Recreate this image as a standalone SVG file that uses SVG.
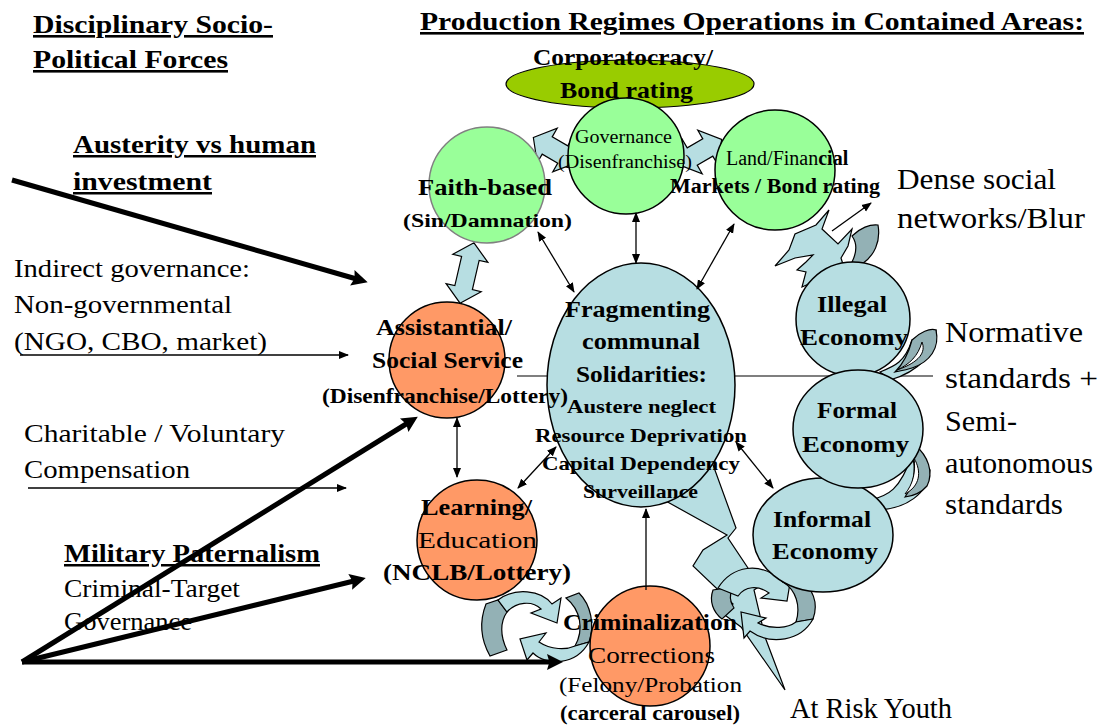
<svg xmlns="http://www.w3.org/2000/svg" width="1107" height="728" viewBox="0 0 1107 728" font-family="'Liberation Serif','DejaVu Serif','Noto Serif',serif">
<style>
text{font-family:"Liberation Serif","DejaVu Serif","Noto Serif",serif;fill:#000}
.b{font-weight:bold}
.u{text-decoration:underline}
.t{font-size:25px}
.r{font-size:29px}
.ln{stroke:#000;stroke-width:1.3;fill:none}
.thick{stroke:#000;stroke-width:5;fill:none}
.lb{fill:#B7DEE2;stroke:#000;stroke-width:1.2}
.gr{fill:#93B1B5;stroke:#000;stroke-width:1.2}
.green{fill:#99FF99;stroke:#000;stroke-width:1.5}
.orange{fill:#FF9966;stroke:#000;stroke-width:1.5}
.blue{fill:#B7DEE2;stroke:#000;stroke-width:1.5}
</style>
<defs>
<marker id="ah" viewBox="0 0 10 10" refX="9" refY="5" markerUnits="userSpaceOnUse" markerWidth="10" markerHeight="10" orient="auto-start-reverse"><path d="M0,1 L10,5 L0,9 z" fill="#000"/></marker>
<marker id="th" viewBox="0 0 10 10" refX="5" refY="5" markerUnits="userSpaceOnUse" markerWidth="20" markerHeight="16" orient="auto"><path d="M0,0 L10,5 L0,10 L1.5,5 z" fill="#000"/></marker>
<polygon id="dbl" points="-25,0 -9,-20 -9,-10 9,-10 9,-20 25,0 9,20 9,10 -9,10 -9,20"/>
<polygon id="dblv" points="-31,0 -15,-18 -15,-9 15,-9 15,-18 31,0 15,18 15,9 -15,9 -15,18"/>
</defs>
<rect width="1107" height="728" fill="#fff"/>

<line x1="517" y1="376" x2="933" y2="376" stroke="#000" stroke-width="1.2"/>

<g id="shapes">
<use href="#dbl" transform="translate(555,150) rotate(30)" fill="#B7DEE2" stroke="#000" stroke-width="1.2"/>
<use href="#dbl" transform="translate(700,152) rotate(-30)" fill="#B7DEE2" stroke="#000" stroke-width="1.2"/>
<use href="#dblv" transform="translate(467,273) rotate(103)" fill="#B7DEE2" stroke="#000" stroke-width="1.2"/>
<polygon class="lb" points="664,500 727,535 703,550 693,566 733,604 722,613 741,627 785,690 765,637 754,590 760,586 728,538 736,528 712,462"/>
<polygon class="lb" points="775,266 789,250 795,234 816,225 829,210 822,229 838,244 852,229 848,246 841,258 848,280 813,282 802,287 806,272 797,270 806,262 813,255 795,258"/>
<path class="gr" d="M852,236 C860,228 870,224 878,225 C881,242 874,256 862,264 L852,262 C857,252 857,243 852,236 Z"/>
<path class="lb" d="M880,372 C895,366 905,362 912,340 L936,330 C938,352 918,372 890,380 Z"/>
<path class="gr" d="M912,340 C920,332 930,328 936,330 C940,348 930,362 912,368 C906,370 900,371 895,372 C905,362 909,352 912,340 Z"/>
<path d="M897,370 C910,364 918,356 922,342 C926,352 920,362 897,370 Z" fill="#fff" stroke="#000" stroke-width="1"/>
<path class="lb" d="M870,500 C888,496 900,490 912,455 L930,470 C928,495 905,508 880,510 Z"/>
<path class="gr" d="M915,445 C928,456 934,472 927,486 C921,493 913,496 905,497 C913,486 917,470 912,455 Z"/>
<path d="M905,494 C913,484 916,472 914,458 C922,472 920,486 905,494 Z" fill="#fff" stroke="#000" stroke-width="1"/>
<path class="gr" d="M486,604 C479,622 481,640 490,656 L507,650 C500,636 500,622 507,612 L498,600 Z"/>
<path class="lb" d="M498,600 C515,587 541,590 552,604 L561,598 L557,623 L531,613 L541,609 C532,600 516,602 507,612 Z"/>
<path class="gr" d="M566,598 C581,610 584,630 575,646 L589,642 C595,625 591,605 579,593 Z"/>
<path class="lb" d="M589,642 C576,666 546,666 533,653 L527,660 L520,639 L546,633 L539,642 C551,650 566,650 575,646 Z"/>
<path class="gr" d="M713,590 C709,601 713,612 722,619 L734,608 C729,601 729,595 733,587 Z"/>
<path class="lb" d="M718,588 C732,566 760,560 783,582 L791,577 L787,601 L761,598 L769,593 C758,585 745,586 738,596 Z"/>
<path class="gr" d="M783,582 C796,590 801,606 796,622 L813,619 C819,603 813,588 798,577 Z"/>
<path class="lb" d="M813,619 C801,641 771,646 750,631 L744,638 L741,612 L766,618 L758,623 C772,630 788,628 796,622 Z"/>
</g>

<g id="corporatocracy">
<ellipse cx="630" cy="84" rx="124" ry="24" fill="#99CC00" stroke="#000" stroke-width="1.2"/>
<text class="b" x="533" y="65" font-size="23" textLength="180" lengthAdjust="spacingAndGlyphs">Corporatocracy/</text>
<text class="b" x="560" y="98" font-size="23" textLength="133" lengthAdjust="spacingAndGlyphs">Bond rating</text>
</g>
<g id="governance">
<circle class="green" cx="626" cy="156" r="58"/>
<text x="575" y="143" font-size="18" textLength="97" lengthAdjust="spacingAndGlyphs">Governance</text>
<text x="558" y="168" font-size="18" textLength="134" lengthAdjust="spacingAndGlyphs">(Disenfranchise)</text>
</g>
<g id="faith">
<circle cx="487" cy="185" r="58" fill="#99FF99" stroke="#808080" stroke-width="1.5"/>
<text class="b" x="418" y="195" font-size="24" textLength="134" lengthAdjust="spacingAndGlyphs">Faith-based</text>
<text class="b" x="403" y="227" font-size="19" textLength="169" lengthAdjust="spacingAndGlyphs">(Sin/Damnation)</text>
</g>
<g id="land">
<circle class="green" cx="775" cy="170" r="60"/>
<text x="726" y="165" font-size="20">Land/Finan<tspan class="b">cial</tspan></text>
<text class="b" x="670" y="193" font-size="20" textLength="210" lengthAdjust="spacingAndGlyphs">Markets / Bond rating</text>
</g>
<g id="fragmenting">
<ellipse class="blue" cx="641" cy="385" rx="94" ry="122"/>
<text class="b" x="565" y="317" font-size="24" textLength="145" lengthAdjust="spacingAndGlyphs">Fragmenting</text>
<text class="b" x="582" y="349" font-size="24" textLength="118" lengthAdjust="spacingAndGlyphs">communal</text>
<text class="b" x="576" y="382" font-size="24" textLength="131" lengthAdjust="spacingAndGlyphs">Solidarities:</text>
<text class="b" x="567" y="413" font-size="19" textLength="149" lengthAdjust="spacingAndGlyphs">Austere neglect</text>
<text class="b" x="535" y="442" font-size="19" textLength="212" lengthAdjust="spacingAndGlyphs">Resource Deprivation</text>
<text class="b" x="542" y="470" font-size="19" textLength="198" lengthAdjust="spacingAndGlyphs">Capital Dependency</text>
<text class="b" x="583" y="498" font-size="19" textLength="115" lengthAdjust="spacingAndGlyphs">Surveillance</text>
</g>
<g id="assistantial">
<circle class="orange" cx="447" cy="360" r="58"/>
<text class="b" x="376" y="335" font-size="23" textLength="136" lengthAdjust="spacingAndGlyphs">Assistantial/</text>
<text class="b" x="372" y="368" font-size="23" textLength="151" lengthAdjust="spacingAndGlyphs">Social Service</text>
<text class="b" x="322" y="403" font-size="21" textLength="246" lengthAdjust="spacingAndGlyphs">(Disenfranchise/Lottery)</text>
</g>
<g id="learning">
<circle class="orange" cx="477" cy="540" r="60"/>
<text class="b" x="421" y="515" font-size="24" textLength="111" lengthAdjust="spacingAndGlyphs">Learning/</text>
<text x="418" y="548" font-size="24" textLength="119" lengthAdjust="spacingAndGlyphs">Education</text>
<text class="b" x="383" y="580" font-size="23" textLength="188" lengthAdjust="spacingAndGlyphs">(NCLB/Lottery)</text>
</g>
<g id="criminalization">
<circle class="orange" cx="650" cy="646" r="60"/>
<text class="b" x="563" y="630" font-size="24" textLength="174" lengthAdjust="spacingAndGlyphs">Criminalization</text>
<text x="588" y="663" font-size="24" textLength="127" lengthAdjust="spacingAndGlyphs">Corrections</text>
<text x="559" y="692" font-size="20" textLength="183" lengthAdjust="spacingAndGlyphs">(Felony/Probation</text>
<text class="b" x="560" y="720" font-size="20" textLength="180" lengthAdjust="spacingAndGlyphs">(carceral carousel)</text>
</g>
<g id="informal">
<ellipse class="blue" cx="823" cy="535" rx="70" ry="57"/>
<text class="b" x="773" y="527" font-size="23" textLength="98" lengthAdjust="spacingAndGlyphs">Informal</text>
<text class="b" x="772" y="559" font-size="23" textLength="106" lengthAdjust="spacingAndGlyphs">Economy</text>
</g>
<g id="illegal">
<circle class="blue" cx="853" cy="319" r="57"/>
<text class="b" x="817" y="312" font-size="23" textLength="70" lengthAdjust="spacingAndGlyphs">Illegal</text>
<text class="b" x="800" y="345" font-size="23" textLength="108" lengthAdjust="spacingAndGlyphs">Economy</text>
</g>
<g id="formal">
<ellipse class="blue" cx="858" cy="429" rx="65" ry="59"/>
<text class="b" x="817" y="418" font-size="23" textLength="80" lengthAdjust="spacingAndGlyphs">Formal</text>
<text class="b" x="802" y="452" font-size="23" textLength="107" lengthAdjust="spacingAndGlyphs">Economy</text>
</g>

<g id="labels">
<text class="b u" x="33" y="33" font-size="26" textLength="240" lengthAdjust="spacingAndGlyphs">Disciplinary Socio-</text>
<text class="b u" x="33" y="68" font-size="26" textLength="195" lengthAdjust="spacingAndGlyphs">Political Forces</text>
<text class="b u" x="420" y="30" font-size="26" textLength="664" lengthAdjust="spacingAndGlyphs">Production Regimes Operations in Contained Areas:</text>
<text class="b u t" x="73" y="153" textLength="243" lengthAdjust="spacingAndGlyphs">Austerity vs human</text>
<text class="b u t" x="73" y="190" textLength="139" lengthAdjust="spacingAndGlyphs">investment</text>
<text class="t" x="14" y="277" textLength="236" lengthAdjust="spacingAndGlyphs">Indirect governance:</text>
<text class="t" x="14" y="313" textLength="218" lengthAdjust="spacingAndGlyphs">Non-governmental</text>
<text class="t" x="14" y="350" textLength="253" lengthAdjust="spacingAndGlyphs">(NGO, CBO, market)</text>
<text class="t" x="24" y="442" textLength="261" lengthAdjust="spacingAndGlyphs">Charitable / Voluntary</text>
<text class="t" x="24" y="478" textLength="166" lengthAdjust="spacingAndGlyphs">Compensation</text>
<text class="b u t" x="64" y="562" textLength="256" lengthAdjust="spacingAndGlyphs">Military Paternalism</text>
<text class="t" x="64" y="597" textLength="176" lengthAdjust="spacingAndGlyphs">Criminal-Target</text>
<text class="t" x="64" y="630" textLength="128" lengthAdjust="spacingAndGlyphs">Governance</text>
<text class="r" x="897" y="189" textLength="159" lengthAdjust="spacingAndGlyphs">Dense social</text>
<text class="r" x="897" y="228" textLength="188" lengthAdjust="spacingAndGlyphs">networks/Blur</text>
<text class="r" x="945" y="342" textLength="138" lengthAdjust="spacingAndGlyphs">Normative</text>
<text class="r" x="945" y="388" textLength="153" lengthAdjust="spacingAndGlyphs">standards +</text>
<text class="r" x="945" y="431" textLength="72" lengthAdjust="spacingAndGlyphs">Semi-</text>
<text class="r" x="945" y="473" textLength="148" lengthAdjust="spacingAndGlyphs">autonomous</text>
<text class="r" x="945" y="514" textLength="118" lengthAdjust="spacingAndGlyphs">standards</text>
<text class="r" x="790" y="718" textLength="162" lengthAdjust="spacingAndGlyphs">At Risk Youth</text>
</g>

<g id="connectors">
<line class="ln" x1="636" y1="213" x2="636" y2="263" marker-start="url(#ah)" marker-end="url(#ah)"/>
<line class="ln" x1="538" y1="232" x2="574" y2="292" marker-start="url(#ah)" marker-end="url(#ah)"/>
<line class="ln" x1="734" y1="224" x2="697" y2="289" marker-start="url(#ah)" marker-end="url(#ah)"/>
<line class="ln" x1="457" y1="418" x2="457" y2="477" marker-start="url(#ah)" marker-end="url(#ah)"/>
<line class="ln" x1="556" y1="447" x2="518" y2="488" marker-start="url(#ah)" marker-end="url(#ah)"/>
<line class="ln" x1="736" y1="442" x2="773" y2="488" marker-start="url(#ah)" marker-end="url(#ah)"/>
<line class="ln" x1="646" y1="590" x2="646" y2="509" marker-end="url(#ah)"/>
<line class="ln" x1="832" y1="231" x2="871" y2="203" marker-end="url(#ah)"/>
<line class="ln" x1="20" y1="355" x2="348" y2="355" marker-end="url(#ah)"/>
<line class="ln" x1="28" y1="488" x2="346" y2="488" marker-end="url(#ah)"/>
<line class="thick" x1="12" y1="180" x2="360" y2="280" marker-end="url(#th)"/>
<line class="thick" x1="22" y1="662" x2="411" y2="421" marker-end="url(#th)"/>
<line class="thick" x1="22" y1="662" x2="358" y2="580" marker-end="url(#th)"/>
<line class="thick" x1="22" y1="662" x2="555" y2="662" marker-end="url(#th)"/>
</g>
</svg>
